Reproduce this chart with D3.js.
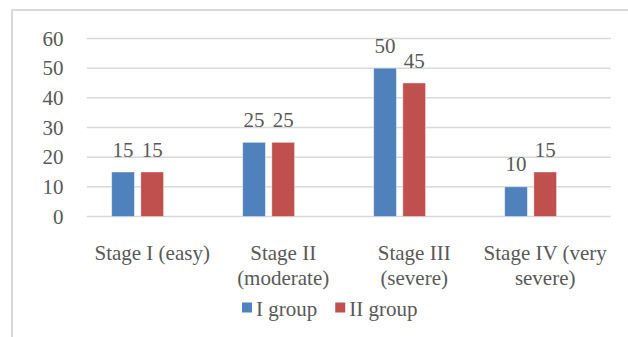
<!DOCTYPE html>
<html>
<head>
<meta charset="utf-8">
<script src="https://cdn.jsdelivr.net/npm/d3@7"></script>
<style>
  body { margin: 0; background: #fff; }
  svg { display: block; }
  text { font-family: "Liberation Serif", "Times New Roman", Times, serif; }
</style>
</head>
<body>
<svg id="chart" width="628" height="337"></svg>
<script>
// chart data
const categories = [["Stage I (easy)"], ["Stage II", "(moderate)"], ["Stage III", "(severe)"], ["Stage IV (very", "severe)"]];
const seriesNames = ["I group", "II group"];
const groupOne = [15, 25, 50, 10];
const groupTwo = [15, 25, 45, 15];
const yTicks = [0, 10, 20, 30, 40, 50, 60];
const colors = ["#4f81bd", "#c0504d"];

const svg = d3.select("#chart");
const textColor = "#595959";
const fontSize = 21;

// outer frame (cut off on right and bottom)
svg.append("rect")
  .attr("x", 12).attr("y", 10)
  .attr("width", 640).attr("height", 340)
  .attr("fill", "none")
  .attr("stroke", "#d9d9d9")
  .attr("stroke-width", 2);

const left = 86.7, right = 610.7;
const y = d3.scaleLinear().domain([0, 60]).range([216.5, 38.5]);
const x0 = d3.scaleBand().domain(d3.range(categories.length)).range([left, right]);
// excel cluster keeps room for a 3rd (empty) series
const x1 = d3.scaleBand().domain([0, 1, 2]).range([25, x0.bandwidth() - 25]).paddingInner(0.22);

// gridlines
svg.append("g").selectAll("line").data(yTicks).enter()
  .append("line")
  .attr("x1", left).attr("x2", right)
  .attr("y1", d => y(d)).attr("y2", d => y(d))
  .attr("stroke", "#d9d9d9")
  .attr("stroke-width", 1.5);

// y tick labels
svg.append("g").selectAll("text").data(yTicks).enter()
  .append("text")
  .attr("x", 63.5)
  .attr("y", d => y(d) + 7)
  .attr("text-anchor", "end")
  .attr("font-size", fontSize)
  .attr("fill", textColor)
  .text(d => d);

// bars + labels
const series = [groupOne, groupTwo];
series.forEach((vals, s) => {
  const g = svg.append("g");
  g.selectAll("rect").data(vals).enter()
    .append("rect")
    .attr("x", (d, i) => x0(i) + x1(s))
    .attr("y", d => y(d))
    .attr("width", x1.bandwidth())
    .attr("height", d => y(0) - y(d))
    .attr("fill", colors[s])
    .attr("stroke", "#fff")
    .attr("stroke-opacity", 0.5)
    .attr("stroke-width", 0.8);
  g.selectAll("text").data(vals).enter()
    .append("text")
    .attr("x", (d, i) => x0(i) + x1(s) + x1.bandwidth() / 2)
    .attr("y", d => y(d) - 15.5)
    .attr("text-anchor", "middle")
    .attr("font-size", fontSize)
    .attr("fill", textColor)
    .text(d => d);
});

// category labels
const cat = svg.append("g").selectAll("text").data(categories).enter()
  .append("text")
  .attr("x", (d, i) => x0(i) + x0.bandwidth() / 2)
  .attr("y", 260)
  .attr("text-anchor", "middle")
  .attr("font-size", fontSize)
  .attr("fill", textColor);
cat.selectAll("tspan").data(d => d).enter()
  .append("tspan")
  .attr("x", function() { return this.parentNode.getAttribute("x"); })
  .attr("dy", (d, i) => i === 0 ? 0 : 25)
  .text(d => d);

// legend
const legend = svg.append("g");
let lx = 242;
seriesNames.forEach((name, s) => {
  legend.append("rect")
    .attr("x", lx).attr("y", 302.5)
    .attr("width", 10).attr("height", 10)
    .attr("fill", colors[s]);
  const t = legend.append("text")
    .attr("x", lx + 14)
    .attr("y", 316)
    .attr("font-size", fontSize)
    .attr("fill", textColor)
    .text(name);
  lx += 14 + t.node().getComputedTextLength() + 18;
});
</script>
</body>
</html>
